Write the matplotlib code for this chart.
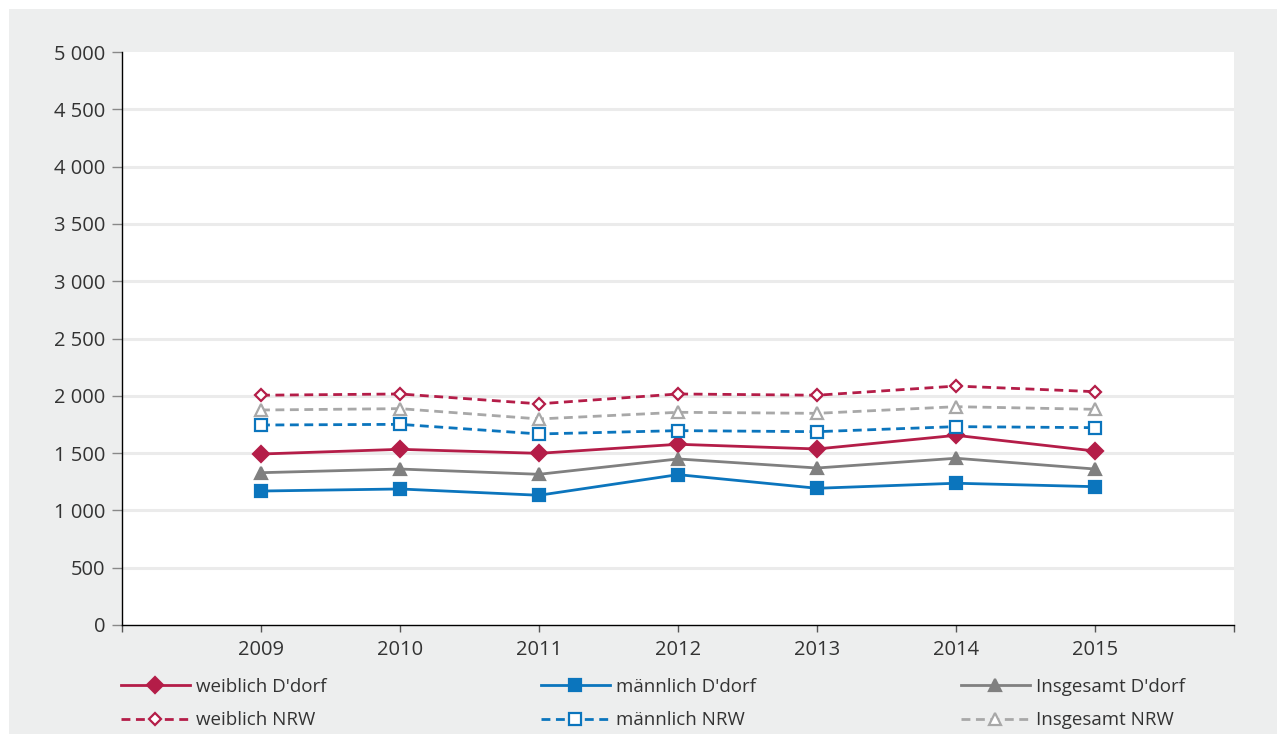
import matplotlib
matplotlib.use("Agg")
import matplotlib.pyplot as plt
from matplotlib.lines import Line2D
from matplotlib.patches import Rectangle
from matplotlib.ticker import FuncFormatter

years = ["2009", "2010", "2011", "2012", "2013", "2014", "2015"]

weiblich_ddorf = [1492, 1533, 1498, 1577, 1536, 1655, 1518]
maennlich_ddorf = [1169, 1187, 1132, 1312, 1193, 1237, 1207]
gesamt_ddorf = [1329, 1361, 1315, 1449, 1370, 1455, 1361]
weiblich_nrw = [2005, 2016, 1930, 2016, 2005, 2085, 2036]
maennlich_nrw = [1745, 1751, 1667, 1696, 1687, 1731, 1722]
gesamt_nrw = [1876, 1888, 1798, 1856, 1847, 1905, 1882]

labels = ["weiblich D'dorf", "männlich D'dorf", "Insgesamt D'dorf",
          "weiblich NRW", "männlich NRW", "Insgesamt NRW"]

RED = "#b41d48"
BLUE = "#0b75bd"
GREY = "#808080"
LGREY = "#a8a8a8"
BG = "#edeeee"
TXT = "#333333"

plt.rcParams["font.family"] = ["Open Sans", "DejaVu Sans"]

fig = plt.figure(figsize=(12.77, 7.34), dpi=100, facecolor="white")
fig.patches.append(Rectangle((9 / 1277, 0), 1, (734 - 9) / 734,
                             transform=fig.transFigure, facecolor=BG,
                             edgecolor="none", zorder=-10))

ax = fig.add_axes([122 / 1277, (734 - 625) / 734, (1234 - 122) / 1277, (625 - 52) / 734])
ax.set_facecolor("white")

x = list(range(1, len(years) + 1))

styles = [
    (weiblich_ddorf, RED, "-", "D", 8.5, RED),
    (maennlich_ddorf, BLUE, "-", "s", 8.5, BLUE),
    (gesamt_ddorf, GREY, "-", "^", 9, GREY),
    (weiblich_nrw, RED, "--", "D", 6.5, "white"),
    (maennlich_nrw, BLUE, "--", "s", 8, "white"),
    (gesamt_nrw, LGREY, "--", "^", 8.5, "white"),
]

handles = []
for (vals, col, ls, mk, ms, fc), lab in zip(styles, labels):
    dash = dict(dashes=(3.2, 2.0)) if ls == "--" else {}
    ax.plot(x, vals, color=col, linestyle=ls, linewidth=2.0, marker=mk,
            markersize=ms, markerfacecolor=fc, markeredgecolor=col,
            markeredgewidth=1.6, zorder=3, **dash)
    handles.append(Line2D([], [], color=col, linestyle=ls, linewidth=2.0,
                          marker=mk, markersize=ms, markerfacecolor=fc,
                          markeredgecolor=col, markeredgewidth=1.6, **dash))

ax.set_xlim(0, len(years) + 1)
ax.set_ylim(0, 5000)

yticks = list(range(0, 5001, 500))
ax.set_yticks(yticks)
ax.yaxis.set_major_formatter(FuncFormatter(lambda v, p: f"{int(v):,}".replace(",", " ")))
for v in yticks[1:-1]:
    ax.axhline(v, color="#ebebeb", linewidth=2.2, zorder=1)

ax.set_xticks([0] + x + [len(years) + 1])
ax.set_xticklabels([""] + years + [""])

for s in ["top", "right"]:
    ax.spines[s].set_visible(False)
ax.spines["left"].set_color("black")
ax.spines["bottom"].set_color("black")
ax.spines["left"].set_linewidth(1.0)
ax.spines["bottom"].set_linewidth(1.0)

ax.tick_params(axis="y", direction="out", length=7, width=1, color="#888888",
               labelsize=14.5, labelcolor=TXT, pad=5)
ax.tick_params(axis="x", direction="out", length=5, width=1, color="#555555",
               labelsize=14.5, labelcolor=TXT, pad=6)

# legend: three columns, two rows
col_x = [113 / 1277, 533 / 1277, 953 / 1277]
for i, cx in enumerate(col_x):
    leg = fig.legend([handles[i], handles[i + 3]], [labels[i], labels[i + 3]],
                     loc="upper left", bbox_to_anchor=(cx, (734 - 670) / 734),
                     frameon=False, fontsize=13.5, handlelength=3.7,
                     handletextpad=0.35, labelspacing=0.85, borderaxespad=0)
    for t in leg.get_texts():
        t.set_color(TXT)

fig.savefig("out.png", dpi=100, facecolor=fig.get_facecolor())
